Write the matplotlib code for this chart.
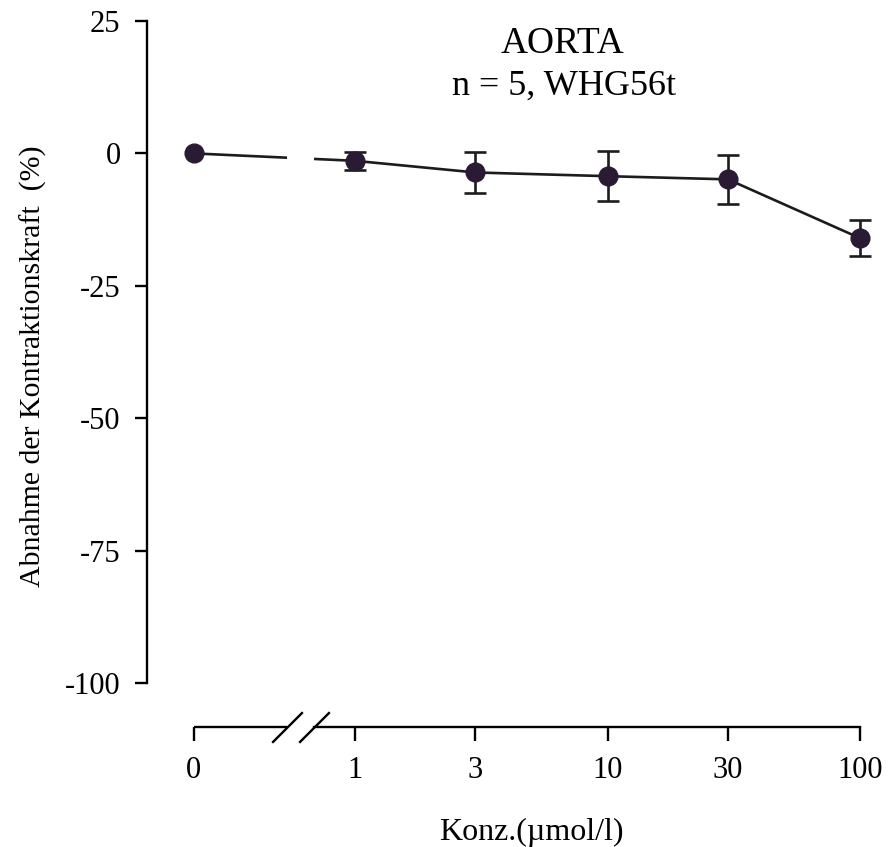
import numpy as np
import matplotlib
matplotlib.use("Agg")
import matplotlib.pyplot as plt

plt.rcParams["font.family"] = ["Liberation Serif", "DejaVu Serif"]

# concentrations (µmol/l) with mean change and error
conc = [0, 1, 3, 10, 30, 100]
tick_labels = ["0", "1", "3", "10", "30", "100"]
mean = [0, -1.4, -3.6, -4.3, -4.9, -16.0]
err = [0, 1.7, 3.8, 4.7, 4.6, 3.4]

ZERO_POS = 0.23          # where "0" sits on the log axis
BREAK = (0.54, 0.69)     # axis break
AXIS_Y = -108.3          # detached x axis

x = [c if c > 0 else ZERO_POS for c in conc]
ink = "#1c1c1c"
dot = "#2b1a33"

fig = plt.figure(figsize=(8.88, 8.47), dpi=100)
ax = fig.add_axes([0.1655, 0.1936, 0.8198, 0.7816])
ax.set_xscale("log")
ax.set_xlim(0.150, 114.6)
ax.set_ylim(-100, 25)

ax.plot(x, mean, color=ink, lw=1.9, zorder=2)
ax.axvspan(BREAK[0], BREAK[1], ymin=0.76, ymax=0.84, color="white", lw=0, zorder=2.5)
ax.errorbar(x[1:], mean[1:], yerr=err[1:], fmt="none", ecolor=ink,
            elinewidth=1.9, capsize=8, capthick=1.9, zorder=3)
ax.plot(x, mean, "o", color=dot, ms=13.5, mec=dot, zorder=4)

for s in ["top", "right"]:
    ax.spines[s].set_visible(False)
ax.spines["left"].set_linewidth(1.7)
ax.spines["bottom"].set_linewidth(1.7)
ax.spines["bottom"].set_position(("data", AXIS_Y))
ax.spines["bottom"].set_bounds(BREAK[1], 100)

ax.set_yticks([25, 0, -25, -50, -75, -100])
ax.set_yticklabels(["25", "0", "-25", "-50", "-75", "-100"])
ax.set_xticks(x)
ax.set_xticklabels(tick_labels)
ax.xaxis.set_minor_locator(matplotlib.ticker.NullLocator())
ax.tick_params(axis="y", direction="out", length=9, width=1.7, pad=10, labelsize=22)
ax.tick_params(axis="x", direction="out", length=10, width=1.7, pad=11, labelsize=22)

# left piece of the x axis and the break marks
ax.plot([ZERO_POS, BREAK[0]], [AXIS_Y, AXIS_Y], color="black", lw=1.7,
        clip_on=False, solid_capstyle="butt")
ax.plot(BREAK, [AXIS_Y, AXIS_Y], linestyle="none", marker=[(-1, -1), (1, 1)],
        ms=22, mew=1.7, color="black", clip_on=False)

fig.text(0.633, 0.948, "AORTA", ha="center", va="center", fontsize=27)
fig.text(0.635, 0.898, "n = 5, WHG56t", ha="center", va="center", fontsize=26)
fig.text(0.037, 1 - 366 / 847, "Abnahme der Kontraktionskraft  (%)",
         rotation=90, ha="center", va="center", fontsize=21.5)
fig.text(531 / 888, 1 - 832 / 847, "Konz.(µmol/l)", ha="center", va="center",
         fontsize=23)

fig.savefig("out.png", dpi=100)
